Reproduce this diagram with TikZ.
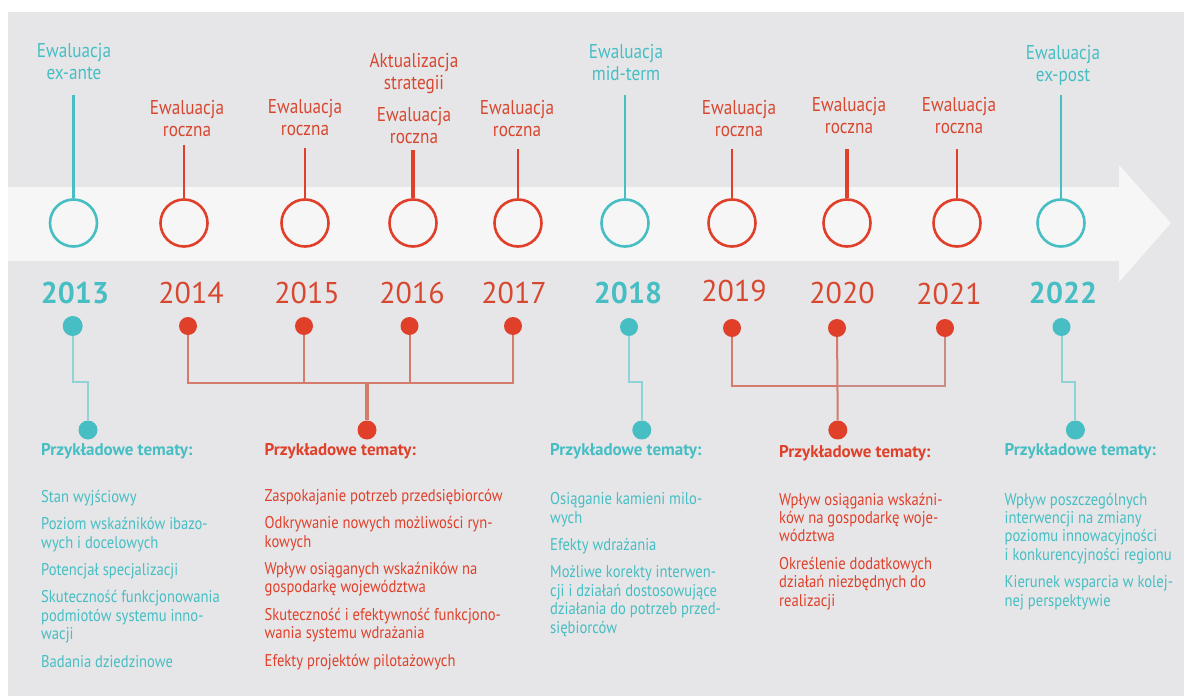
\documentclass[tikz,border=0pt]{standalone}
\usepackage{fontspec}
\setmainfont{PT Sans}
\newfontfamily\cond{PT Sans}[FakeStretch=0.86]
\definecolor{bg}{HTML}{E6E6E8}
\definecolor{band}{HTML}{F6F6F6}
\definecolor{tl}{HTML}{46BEC3}
\definecolor{tlc}{HTML}{8ED3D6}
\definecolor{rd}{HTML}{E0402A}
\definecolor{rdt}{HTML}{D8472F}
\definecolor{rdc}{HTML}{D67A6B}
\definecolor{rdk}{HTML}{C98C84}
\begin{document}
\begin{tikzpicture}[x=1pt,y=-1pt,
  ring/.style={circle, minimum size=47pt, inner sep=0pt, line width=2.6pt, fill=band},
  dotn/.style={circle, minimum size=18pt, inner sep=0pt},
  lbl/.style={font=\cond\fontsize{20}{22}\selectfont, align=center, anchor=base, inner sep=0pt},
  yr/.style={font=\fontsize{30}{30}\selectfont, anchor=base, inner sep=0pt},
  yrb/.style={font=\bfseries\fontsize{30}{30}\selectfont, anchor=base, inner sep=0pt},
  head/.style={font=\bfseries\fontsize{17}{18}\selectfont, anchor=base west, inner sep=0pt},
  items/.style={font=\cond\fontsize{17}{18.4}\selectfont, align=left, anchor=base west, inner sep=0pt},
  stem/.style={line width=2.6pt},
  con/.style={line width=2pt},
]
\useasboundingbox (0,0) rectangle (1184,696);
\fill[bg] (8,12) rectangle (1184,696);
\fill[band] (8,187) -- (1119,187) -- (1119,165) -- (1171,223) -- (1119,282) -- (1119,261) -- (8,261) -- cycle;

% upper labels (anchor = baseline of last line)
\node[lbl, tl] (l13) at (74,79) {Ewaluacja\\ex-ante};
\node[lbl, rdt] (l14) at (187,136) {Ewaluacja\\roczna};
\node[lbl, rdt] (l15) at (305,135) {Ewaluacja\\roczna};
\node[lbl, rdt] (l16a) at (414,89) {Aktualizacja\\strategii};
\node[lbl, rdt] (l16b) at (414,143) {Ewaluacja\\roczna};
\node[lbl, rdt] (l17) at (517,136) {Ewaluacja\\roczna};
\node[lbl, tl] (l18) at (626,80) {Ewaluacja\\mid-term};
\node[lbl, rdt] (l19) at (739,136) {Ewaluacja\\roczna};
\node[lbl, rdt] (l20) at (849,133) {Ewaluacja\\roczna};
\node[lbl, rdt] (l21) at (959,133) {Ewaluacja\\roczna};
\node[lbl, tl] (l22) at (1063,81) {Ewaluacja\\ex-post};

% rings
\node[ring, draw=tl] (c13) at (73.5,223) {};
\node[ring, draw=rd] (c14) at (184,223) {};
\node[ring, draw=rd] (c15) at (305,223) {};
\node[ring, draw=rd] (c16) at (413,223) {};
\node[ring, draw=rd] (c17) at (518,223) {};
\node[ring, draw=tl] (c18) at (625,223) {};
\node[ring, draw=rd] (c19) at (732,223) {};
\node[ring, draw=rd] (c20) at (847,223) {};
\node[ring, draw=rd] (c21) at (957,223) {};
\node[ring, draw=tl] (c22) at (1061,223) {};

% stem tops
\coordinate (s13) at (73.5,95);
\coordinate (s14) at (184,145);
\coordinate (s15) at (305,148);
\coordinate (s16) at (413,150);
\coordinate (s17) at (518,149);
\coordinate (s18) at (625,95);
\coordinate (s19) at (732,149);
\coordinate (s20) at (847,149);
\coordinate (s21) at (957,149);
\coordinate (s22) at (1061,95);
\draw[stem, tl] (c13) -- (s13);
\draw[stem, rd] (c14) -- (s14);
\draw[stem, rd] (c15) -- (s15);
\draw[stem, rd, line width=3.6pt] (c16) -- (s16);
\draw[stem, rd] (c17) -- (s17);
\draw[stem, tl] (c18) -- (s18);
\draw[stem, rd] (c19) -- (s19);
\draw[stem, rd, line width=3.2pt] (c20) -- (s20);
\draw[stem, rd] (c21) -- (s21);
\draw[stem, tl] (c22) -- (s22);

% years
\node[yrb, tl] (y13) at (75,303) {2013};
\node[yr, rdt] (y14) at (191,303) {2014};
\node[yr, rdt] (y15) at (307,303) {2015};
\node[yr, rdt] (y16) at (412,303) {2016};
\node[yr, rdt] (y17) at (514,303) {2017};
\node[yrb, tl] (y18) at (628,303) {2018};
\node[yr, rdt] (y19) at (734,301) {2019};
\node[yr, rdt] (y20) at (842,303) {2020};
\node[yr, rdt] (y21) at (949,304) {2021};
\node[yrb, tl] (y22) at (1063,303) {2022};

% dots
\node[dotn, fill=tl, minimum size=20pt] (d13) at (72.7,326) {};
\node[dotn, fill=rd] (d14) at (188,326) {};
\node[dotn, fill=rd] (d15) at (304,326) {};
\node[dotn, fill=rd] (d16) at (409.5,326) {};
\node[dotn, fill=rd] (d17) at (513,326) {};
\node[dotn, fill=tl] (d18) at (629,327) {};
\node[dotn, fill=rd] (d19) at (732,328) {};
\node[dotn, fill=rd] (d20) at (837,328) {};
\node[dotn, fill=rd] (d21) at (945,328) {};
\node[dotn, fill=tl] (d22) at (1061.5,327) {};

% bottom dots
\node[dotn, fill=tl, minimum size=19pt] (b1) at (88,430) {};
\node[dotn, fill=rd, minimum size=19pt] (b2) at (367,430) {};
\node[dotn, fill=tl, minimum size=19pt] (b3) at (641.8,430) {};
\node[dotn, fill=rd, minimum size=19pt] (b4) at (837.8,430) {};
\node[dotn, fill=tl, minimum size=19pt] (b5) at (1075.4,430) {};

% connectors
\coordinate (k1) at (88,382);
\draw[con, tlc] (d13) |- (k1) -- (b1);
\coordinate (j1) at (367,383);
\draw[con, rdc] (d14) |- (j1);
\draw[con, rdc] (d17) |- (j1);
\draw[con, rdc] (d15) -- (d15 |- j1);
\draw[con, rdc] (d16) -- (d16 |- j1);
\draw[con, rdc, line width=4pt] (j1) -- (b2);
\coordinate (k3) at (641.8,382);
\draw[con, tlc] (d18) |- (k3) -- (b3);
\coordinate (j2) at (837.8,386);
\draw[con, rdc] (d19) |- (j2);
\draw[con, rdk, line width=2.6pt] (d21) |- (j2);
\draw[con, rdc] (d20) -- (b4);
\coordinate (k5) at (1075.4,382);
\draw[con, tlc] (d22) |- (k5) -- (b5);

% headings
\node[head, tl] (h1) at (41,455) {Przykładowe tematy:};
\node[head, rd] (h2) at (264.5,455) {Przykładowe tematy:};
\node[head, tl] (h3) at (550,455) {Przykładowe tematy:};
\node[head, rd] (h4) at (779,457) {Przykładowe tematy:};
\node[head, tl] (h5) at (1004.5,455) {Przykładowe tematy:};

% item lists (anchor = baseline of last line)
\node[items, tl] (t1) at (41,667) {Stan wyjściowy\\[9pt]
Poziom wskaźników ibazo-\\wych i docelowych\\[9pt]
Potencjał specjalizacji\\[9pt]
Skuteczność funkcjonowania\\podmiotów systemu inno-\\wacji\\[9pt]
Badania dziedzinowe};
\node[items, rd] (t2) at (264.5,666) {Zaspokajanie potrzeb przedsiębiorców\\[9pt]
Odkrywanie nowych możliwości ryn-\\kowych\\[9pt]
Wpływ osiąganych wskaźników na\\gospodarkę województwa\\[9pt]
Skuteczność i efektywność funkcjono-\\wania systemu wdrażania\\[9pt]
Efekty projektów pilotażowych};
\node[items, tl] (t3) at (550,633) {Osiąganie kamieni milo-\\wych\\[9pt]
Efekty wdrażania\\[9pt]
Możliwe korekty interwen-\\cji i działań dostosowujące\\działania do potrzeb przed-\\siębiorców};
\node[items, rd] (t4) at (779,606) {Wpływ osiągania wskaźni-\\ków na gospodarkę woje-\\wództwa\\[9pt]
Określenie dodatkowych\\działań niezbędnych do\\realizacji};
\node[items, tl] (t5) at (1004.5,606) {Wpływ poszczególnych\\interwencji na zmiany\\poziomu innowacyjności\\i konkurencyjności regionu\\[9pt]
Kierunek wsparcia w kolej-\\nej perspektywie};
\end{tikzpicture}
\end{document}
